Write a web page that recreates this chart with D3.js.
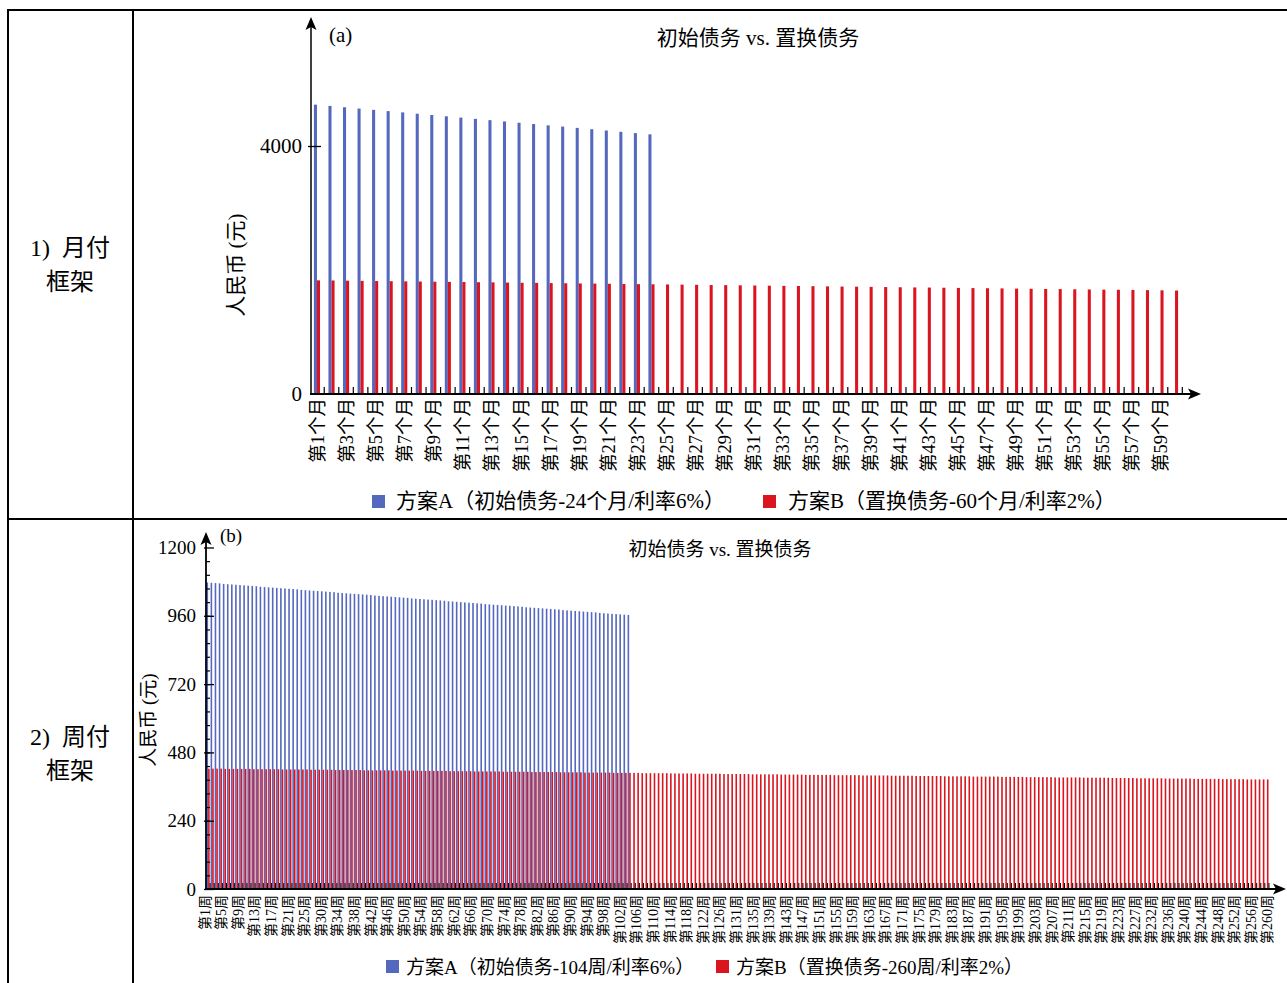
<!DOCTYPE html>
<html>
<head>
<meta charset="utf-8">
<script src="https://cdn.jsdelivr.net/npm/d3@7"></script>
<style>
  body { margin: 0; background: #fff; }
  svg { display: block; }
</style>
</head>
<body>
<script>
// monthly plan (a)
var monthlyA = [4667, 4646, 4625, 4604, 4583, 4563, 4542, 4521, 4500, 4479, 4458, 4438,
                4417, 4396, 4375, 4354, 4333, 4313, 4292, 4271, 4250, 4229, 4208, 4188];
var monthlyB = [1833, 1831, 1828, 1825, 1822, 1819, 1817, 1814, 1811, 1808, 1806, 1803,
                1800, 1797, 1794, 1792, 1789, 1786, 1783, 1781, 1778, 1775, 1772, 1769,
                1767, 1764, 1761, 1758, 1756, 1753, 1750, 1747, 1744, 1742, 1739, 1736,
                1733, 1731, 1728, 1725, 1722, 1719, 1717, 1714, 1711, 1708, 1706, 1703,
                1700, 1697, 1694, 1692, 1689, 1686, 1683, 1681, 1678, 1675, 1672, 1669];
var monthTicks = [1, 3, 5, 7, 9, 11, 13, 15, 17, 19, 21, 23, 25, 27, 29,
                  31, 33, 35, 37, 39, 41, 43, 45, 47, 49, 51, 53, 55, 57, 59];

// weekly plan (b)
var weeklyA = [1077, 1076, 1075, 1074, 1072, 1071, 1070, 1069, 1068, 1067, 1066, 1065, 1064,
               1062, 1061, 1060, 1059, 1058, 1057, 1056, 1055, 1054, 1053, 1051, 1050, 1049,
               1048, 1047, 1046, 1045, 1044, 1043, 1041, 1040, 1039, 1038, 1037, 1036, 1035,
               1034, 1033, 1031, 1030, 1029, 1028, 1027, 1026, 1025, 1024, 1023, 1021, 1020,
               1019, 1018, 1017, 1016, 1015, 1014, 1013, 1011, 1010, 1009, 1008, 1007, 1006,
               1005, 1004, 1003, 1001, 1000, 999, 998, 997, 996, 995, 994, 993, 992,
               990, 989, 988, 987, 986, 985, 984, 983, 982, 980, 979, 978, 977,
               976, 975, 974, 973, 972, 970, 969, 968, 967, 966, 965, 964, 963];
var weeklyB = [
  423, 423, 423, 423,
  422, 422, 422, 422, 422, 422, 422,
  421, 421, 421, 421, 421, 421, 421,
  420, 420, 420, 420, 420, 420, 420,
  419, 419, 419, 419, 419, 419,
  418, 418, 418, 418, 418, 418, 418,
  417, 417, 417, 417, 417, 417, 417,
  416, 416, 416, 416, 416, 416, 416,
  415, 415, 415, 415, 415, 415, 415,
  414, 414, 414, 414, 414, 414,
  413, 413, 413, 413, 413, 413, 413,
  412, 412, 412, 412, 412, 412, 412,
  411, 411, 411, 411, 411, 411, 411,
  410, 410, 410, 410, 410, 410,
  409, 409, 409, 409, 409, 409, 409,
  408, 408, 408, 408, 408, 408, 408,
  407, 407, 407, 407, 407, 407, 407,
  406, 406, 406, 406, 406, 406,
  405, 405, 405, 405, 405, 405, 405,
  404, 404, 404, 404, 404, 404, 404,
  403, 403, 403, 403, 403, 403, 403,
  402, 402, 402, 402, 402, 402,
  401, 401, 401, 401, 401, 401, 401,
  400, 400, 400, 400, 400, 400, 400,
  399, 399, 399, 399, 399, 399, 399,
  398, 398, 398, 398, 398, 398,
  397, 397, 397, 397, 397, 397, 397,
  396, 396, 396, 396, 396, 396, 396,
  395, 395, 395, 395, 395, 395, 395,
  394, 394, 394, 394, 394, 394,
  393, 393, 393, 393, 393, 393, 393,
  392, 392, 392, 392, 392, 392, 392,
  391, 391, 391, 391, 391, 391, 391,
  390, 390, 390, 390, 390, 390,
  389, 389, 389, 389, 389, 389, 389,
  388, 388, 388, 388, 388, 388, 388,
  387, 387, 387, 387, 387, 387, 387,
  386, 386, 386, 386, 386, 386,
  385, 385, 385, 385, 385, 385];
var weekTicks = [1, 5, 9, 13, 17, 21, 25, 30, 34, 38, 42, 46, 50, 54, 58, 62, 66, 70, 74, 78,
                 82, 86, 90, 94, 98, 102, 106, 110, 114, 118, 122, 126, 131, 135, 139, 143,
                 147, 151, 155, 159, 163, 167, 171, 175, 179, 183, 187, 191, 195, 199, 203,
                 207, 211, 215, 219, 223, 227, 232, 236, 240, 244, 248, 252, 256, 260];

var rowLabels = [["1)  月付", "框架"], ["2)  周付", "框架"]];
var legendA = ["方案A（初始债务-24个月/利率6%）", "方案A（初始债务-104周/利率6%）"];
var legendB = ["方案B（置换债务-60个月/利率2%）", "方案B（置换债务-260周/利率2%）"];

var BLUE = "#5468bd", RED = "#da1520";
var FONT = "'Liberation Serif','Times New Roman','Noto Sans CJK SC',serif";

var svg = d3.select("body").append("svg")
    .attr("width", 1287).attr("height", 983)
    .style("font-family", FONT);

// table frame
var frame = svg.append("g").attr("stroke", "#000").attr("stroke-width", 2);
frame.append("line").attr("x1", 7).attr("x2", 1287).attr("y1", 10).attr("y2", 10);
frame.append("line").attr("x1", 7).attr("x2", 1287).attr("y1", 519).attr("y2", 519);
frame.append("line").attr("x1", 8).attr("x2", 8).attr("y1", 10).attr("y2", 983);
frame.append("line").attr("x1", 133).attr("x2", 133).attr("y1", 10).attr("y2", 983);

[248, 737].forEach(function(y0, i) {
  svg.append("text").attr("x", 70).attr("y", y0).attr("text-anchor", "middle")
    .attr("dominant-baseline", "central").style("font-size", "24px")
    .style("white-space", "pre").text(rowLabels[i][0]);
  svg.append("text").attr("x", 70).attr("y", y0 + 34).attr("text-anchor", "middle")
    .attr("dominant-baseline", "central").style("font-size", "24px").text(rowLabels[i][1]);
});

function arrowUp(g, x, y) {
  g.append("path").attr("d", "M" + x + "," + y + "l-5.5,13l5.5,-3l5.5,3z").attr("fill", "#000");
}
function arrowRight(g, x, y) {
  g.append("path").attr("d", "M" + x + "," + y + "l-13,-5.5l3,5.5l-3,5.5z").attr("fill", "#000");
}

// ---------------- (a) monthly ----------------
var months = d3.range(1, 61);
var gA = svg.append("g");
var xM = d3.scaleBand().domain(months).range([311, 1181]).paddingInner(0.58).paddingOuter(0.2);
var xMs = d3.scaleBand().domain(["A", "B"]).range([0, xM.bandwidth()]);
var yM = d3.scaleLinear().domain([0, 4000]).range([394, 146]);

gA.selectAll("rect.a").data(monthlyA).enter().append("rect")
  .attr("x", function(d, i) { return xM(months[i]) + xMs("A"); })
  .attr("width", xMs.bandwidth())
  .attr("y", function(d) { return yM(d); })
  .attr("height", function(d) { return yM(0) - yM(d); })
  .attr("fill", BLUE);
gA.selectAll("rect.b").data(monthlyB).enter().append("rect")
  .attr("x", function(d, i) { return xM(months[i]) + xMs("B"); })
  .attr("width", xMs.bandwidth())
  .attr("y", function(d) { return yM(d); })
  .attr("height", function(d) { return yM(0) - yM(d); })
  .attr("fill", RED);

// category boundary ticks
var stepM = xM.step();
gA.selectAll("line.ct").data(months).enter().append("line")
  .attr("x1", function(m) { return xM(m) + xM.bandwidth() + (stepM - xM.bandwidth()) / 2; })
  .attr("x2", function(m) { return xM(m) + xM.bandwidth() + (stepM - xM.bandwidth()) / 2; })
  .attr("y1", yM(0)).attr("y2", yM(0) - 7)
  .attr("stroke", "#000").attr("stroke-width", 1.2);

// y axis
var yAxA = gA.append("g").attr("transform", "translate(311,0)")
  .call(d3.axisLeft(yM).tickValues([0, 4000]).tickFormat(d3.format("d"))
    .tickSizeInner(-10).tickSizeOuter(0).tickPadding(9));
yAxA.select(".domain").remove();
yAxA.selectAll(".tick line").attr("x1", -3).attr("stroke-width", 1.3);
yAxA.selectAll(".tick").filter(function(d) { return d === 0; }).select("line").remove();
yAxA.selectAll("text").style("font-size", "21px").attr("fill", "#000").attr("font-family", FONT);
gA.append("line").attr("x1", 311).attr("x2", 311).attr("y1", 394).attr("y2", 25)
  .attr("stroke", "#000").attr("stroke-width", 1.5);
arrowUp(gA, 311, 17);
gA.append("line").attr("x1", 310).attr("x2", 1192).attr("y1", 394).attr("y2", 394)
  .attr("stroke", "#000").attr("stroke-width", 1.8);
arrowRight(gA, 1201, 394);

// x labels
gA.selectAll("text.xl").data(monthTicks).enter().append("text")
  .attr("transform", function(m) {
    return "translate(" + (xM(m) + xM.bandwidth() / 2 + 1) + ",398) rotate(-90)";
  })
  .attr("text-anchor", "end").attr("dominant-baseline", "central")
  .style("font-size", "18.5px")
  .text(function(m) { return "第" + m + "个月"; });

gA.append("text").attr("x", 329).attr("y", 42).style("font-size", "21px").text("(a)");
gA.append("text").attr("x", 758).attr("y", 38).attr("text-anchor", "middle")
  .attr("dominant-baseline", "central").style("font-size", "21px").text("初始债务 vs. 置换债务");
gA.append("text").attr("transform", "translate(236,265) rotate(-90)")
  .attr("text-anchor", "middle").attr("dominant-baseline", "central")
  .style("font-size", "21px").text("人民币 (元)");

gA.append("rect").attr("x", 372).attr("y", 495).attr("width", 13).attr("height", 13).attr("fill", BLUE);
gA.append("text").attr("x", 396).attr("y", 501).attr("dominant-baseline", "central")
  .style("font-size", "21px").text(legendA[0]);
gA.append("rect").attr("x", 763).attr("y", 495).attr("width", 13).attr("height", 13).attr("fill", RED);
gA.append("text").attr("x", 788).attr("y", 501).attr("dominant-baseline", "central")
  .style("font-size", "21px").text(legendB[0]);

// ---------------- (b) weekly ----------------
var weeks = d3.range(1, 261);
var gB = svg.append("g");
var xW = d3.scaleBand().domain(weeks).range([206, 1269]).paddingInner(0.22).paddingOuter(0.12);
var xWs = d3.scaleBand().domain(["A", "B"]).range([0, xW.bandwidth()]);
var yW = d3.scaleLinear().domain([0, 1200]).range([889, 547.5]);

gB.selectAll("rect.a").data(weeklyA).enter().append("rect")
  .attr("x", function(d, i) { return xW(weeks[i]) + xWs("A"); })
  .attr("width", xWs.bandwidth())
  .attr("y", function(d) { return yW(d); })
  .attr("height", function(d) { return yW(0) - yW(d); })
  .attr("fill", BLUE);
gB.selectAll("rect.b").data(weeklyB).enter().append("rect")
  .attr("x", function(d, i) { return xW(weeks[i]) + xWs("B"); })
  .attr("width", xWs.bandwidth())
  .attr("y", function(d) { return yW(d); })
  .attr("height", function(d) { return yW(0) - yW(d); })
  .attr("fill", RED);

var stepW = xW.step();
gB.selectAll("line.ct").data(weeks).enter().append("line")
  .attr("x1", function(w) { return xW(w) + xW.bandwidth() + (stepW - xW.bandwidth()) / 2; })
  .attr("x2", function(w) { return xW(w) + xW.bandwidth() + (stepW - xW.bandwidth()) / 2; })
  .attr("y1", yW(0)).attr("y2", yW(0) - 6)
  .attr("stroke", "#000").attr("stroke-width", 1);

// y axis with minor ticks
var yMinor = gB.append("g").attr("transform", "translate(206,0)")
  .call(d3.axisLeft(yW).tickValues(d3.range(48, 1200, 48)).tickSizeInner(-4).tickSizeOuter(0).tickFormat(""));
yMinor.select(".domain").remove();
yMinor.selectAll(".tick line").attr("stroke-width", 1.2);
var yAxB = gB.append("g").attr("transform", "translate(206,0)")
  .call(d3.axisLeft(yW).tickValues([0, 240, 480, 720, 960, 1200]).tickFormat(d3.format("d"))
    .tickSizeInner(-8).tickSizeOuter(0).tickPadding(10));
yAxB.select(".domain").remove();
yAxB.selectAll(".tick line").attr("x1", -2).attr("stroke-width", 1.3);
yAxB.selectAll("text").style("font-size", "19px").attr("fill", "#000").attr("font-family", FONT);
gB.append("line").attr("x1", 206).attr("x2", 206).attr("y1", 889).attr("y2", 540)
  .attr("stroke", "#000").attr("stroke-width", 1.8);
arrowUp(gB, 206, 532);
gB.append("line").attr("x1", 205).attr("x2", 1277).attr("y1", 889).attr("y2", 889)
  .attr("stroke", "#000").attr("stroke-width", 1.8);
arrowRight(gB, 1286, 889);

var xLab = d3.scalePoint().domain(weekTicks)
  .range([xW(1) + xW.bandwidth() / 2 - 3, xW(260) + xW.bandwidth() / 2 + 1]);
gB.selectAll("text.xl").data(weekTicks).enter().append("text")
  .attr("transform", function(w) { return "translate(" + xLab(w) + ",895) rotate(-90)"; })
  .attr("text-anchor", "end").attr("dominant-baseline", "central")
  .style("font-size", "14px")
  .text(function(w) { return "第" + w + "周"; });

gB.append("text").attr("x", 220).attr("y", 542).style("font-size", "19px").text("(b)");
gB.append("text").attr("x", 720).attr("y", 549).attr("text-anchor", "middle")
  .attr("dominant-baseline", "central").style("font-size", "19px").text("初始债务 vs. 置换债务");
gB.append("text").attr("transform", "translate(148,720) rotate(-90)")
  .attr("text-anchor", "middle").attr("dominant-baseline", "central")
  .style("font-size", "19px").text("人民币 (元)");

gB.append("rect").attr("x", 386).attr("y", 960).attr("width", 13).attr("height", 13).attr("fill", BLUE);
gB.append("text").attr("x", 406).attr("y", 967).attr("dominant-baseline", "central")
  .style("font-size", "19px").text(legendA[1]);
gB.append("rect").attr("x", 716).attr("y", 960).attr("width", 13).attr("height", 13).attr("fill", RED);
gB.append("text").attr("x", 736).attr("y", 967).attr("dominant-baseline", "central")
  .style("font-size", "19px").text(legendB[1]);
</script>
</body>
</html>
